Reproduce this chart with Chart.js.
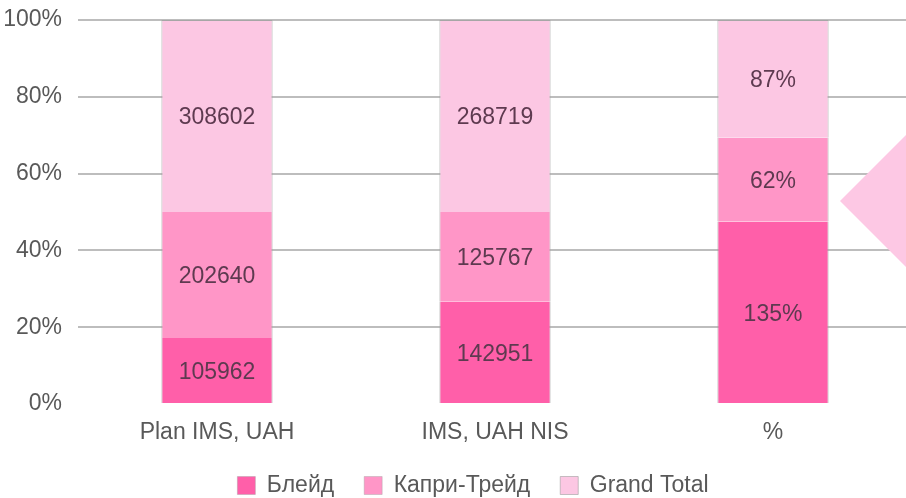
<!DOCTYPE html>
<html>
<head>
<meta charset="utf-8">
<script src="https://cdn.jsdelivr.net/npm/chart.js@4.4.1/dist/chart.umd.min.js"></script>
<style>
  html, body { margin: 0; padding: 0; background: #fff; overflow: hidden; }
  #wrap { width: 906px; height: 498px; overflow: hidden; }
  #box { width: 912px; height: 498px; }
</style>
</head>
<body>
<div id="wrap"><div id="box"><canvas id="chart"></canvas></div></div>
<script>
const categories = ["Plan IMS, UAH", "IMS, UAH NIS", "%"];
const blade = [105962, 142951, 135];
const capri = [202640, 125767, 62];
const grandTotal = [308602, 268719, 87];
const percentCategory = [false, false, true];
const yTicks = [0, 20, 40, 60, 80, 100];

const colours = ["#ff5fa9", "#ff96c7", "#fcc7e3"];
const edge = "rgba(160,160,160,0.8)";
const font = "Arial, 'Liberation Sans', sans-serif";

// 100% stacking: each segment is its share of the column total
const totals = categories.map((c, i) => blade[i] + capri[i] + grandTotal[i]);
const share = arr => arr.map((v, i) => v / totals[i] * 100);

const series = [
  { label: "Блейд", raw: blade },
  { label: "Капри-Трейд", raw: capri },
  { label: "Grand Total", raw: grandTotal }
];

const segmentLabels = {
  id: "segmentLabels",
  afterDatasetsDraw(chart) {
    const ctx = chart.ctx;
    ctx.save();
    ctx.font = "23px " + font;
    ctx.fillStyle = "#5e3a50";
    ctx.textAlign = "center";
    ctx.textBaseline = "middle";
    chart.data.datasets.forEach((ds, d) => {
      chart.getDatasetMeta(d).data.forEach((bar, i) => {
        const p = bar.getCenterPoint();
        const txt = ds.raw[i] + (percentCategory[i] ? "%" : "");
        ctx.fillText(txt, p.x, p.y + 2);
      });
    });
    ctx.restore();
  }
};

// keep the legend compact and nudge it like the original
const legendFit = {
  id: "legendFit",
  beforeInit(chart) {
    const fit = chart.legend.fit;
    chart.legend.fit = function () {
      fit.call(this);
      this.height = 54;
    };
  },
  afterLayout(chart) {
    chart.legend.left += 16;
    chart.legend.right += 16;
  }
};

// decorative arrow shape on the right edge
const sideArrow = {
  id: "sideArrow",
  afterDraw(chart) {
    const ctx = chart.ctx;
    ctx.save();
    ctx.fillStyle = "#fdc8e4";
    ctx.beginPath();
    ctx.moveTo(840, 201);
    ctx.lineTo(907, 134);
    ctx.lineTo(907, 268);
    ctx.closePath();
    ctx.fill();
    ctx.restore();
  }
};

new Chart(document.getElementById("chart"), {
  type: "bar",
  data: {
    labels: categories,
    datasets: series.map((s, k) => ({
      label: s.label,
      raw: s.raw,
      data: share(s.raw),
      backgroundColor: colours[k],
      borderColor: edge,
      borderWidth: { left: 1, right: 1, top: k === 2 ? 1 : 0, bottom: 0 },
      borderSkipped: false,
      barPercentage: 0.4,
      categoryPercentage: 1.0
    }))
  },
  options: {
    responsive: true,
    maintainAspectRatio: false,
    animation: false,
    layout: { padding: { top: 0, left: 2, right: 0, bottom: 0 } },
    plugins: {
      tooltip: { enabled: false },
      legend: {
        position: "bottom",
        labels: {
          font: { family: font, size: 23 },
          color: "#595959",
          boxWidth: 18,
          boxHeight: 18,
          padding: 30
        }
      }
    },
    scales: {
      x: {
        stacked: true,
        afterFit: axis => { axis.height = 40; },
        grid: { display: false },
        border: { display: false },
        ticks: {
          color: "#595959",
          padding: 7,
          font: { family: font, size: 23 }
        }
      },
      y: {
        stacked: true,
        min: 0,
        max: 100,
        afterBuildTicks: axis => { axis.ticks = yTicks.map(v => ({ value: v })); },
        afterFit: axis => { axis.width = 76; axis.paddingTop = 20; },
        grid: {
          color: c => c.tick && c.tick.value === 0 ? "rgba(0,0,0,0)" : "#bdbdbd",
          lineWidth: 2,
          drawTicks: false
        },
        border: { display: false },
        ticks: {
          color: "#595959",
          padding: 16,
          callback: v => v + "%",
          font: { family: font, size: 23 }
        }
      }
    }
  },
  plugins: [segmentLabels, legendFit, sideArrow]
});
</script>
</body>
</html>
